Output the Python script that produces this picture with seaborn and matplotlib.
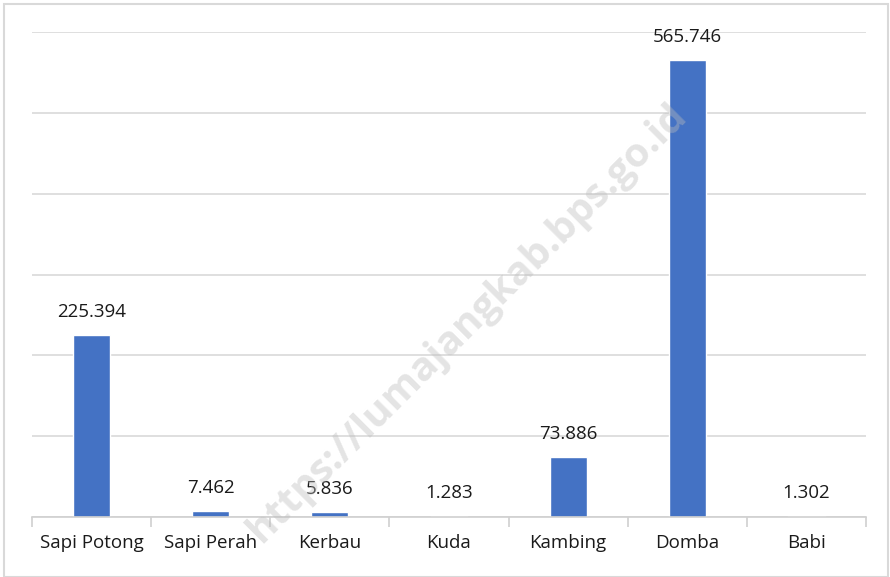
import matplotlib
matplotlib.use("Agg")
import matplotlib.pyplot as plt
import seaborn as sns
import numpy as np

# Data

categories = ["Sapi Potong", "Sapi Perah", "Kerbau", "Kuda", "Kambing", "Domba", "Babi"]
values = [225394, 7462, 5836, 1283, 73886, 565746, 1302]
value_labels = ["225.394", "7.462", "5.836", "1.283", "73.886", "565.746", "1.302"]

sns.set_theme(style="white")
plt.rcParams['font.family'] = ['Open Sans', 'DejaVu Sans']

fig = plt.figure(figsize=(8.9, 5.77), dpi=100)
ax = fig.add_axes([32 / 890, 1 - 517 / 577, 834 / 890, 485 / 577])

sns.barplot(
    x=categories,
    y=values,
    color="#4472C4",
    width=0.31,
    saturation=1,
    ax=ax
)

ax.set_xlim(-0.5, len(categories) - 0.5)
ax.set_ylim(0, 600000)
ax.set_yticks(np.arange(0, 600001, 100000))
ax.set_yticklabels([])
ax.tick_params(axis="y", length=0)
ax.grid(axis="y", color="#d9d9d9", linewidth=1.2)
ax.set_axisbelow(True)

for side in ["left", "right", "top"]:
    ax.spines[side].set_visible(False)
ax.spines["bottom"].set_color("#d0d0d0")
ax.spines["bottom"].set_linewidth(1.2)

ax.tick_params(axis="x", which="major", length=0, pad=12, labelsize=13.5, labelcolor="#1a1a1a")
ax.set_xticks(np.arange(-0.5, len(categories)), minor=True)
ax.tick_params(axis="x", which="minor", bottom=True, length=7, width=1.2,
               color="#d0d0d0", direction="out")

ax.bar_label(ax.containers[0], labels=value_labels, padding=10, fontsize=13.5, color="#1a1a1a")

# Watermark
fig.text(
    0.525, 0.44, "https://lumajangkab.bps.go.id",
    rotation=45, fontsize=29, fontweight="bold",
    color="#bcbcbc", alpha=0.4, ha="center", va="center"
)

# Figure border
fig.patches.append(plt.Rectangle(
    (4 / 890, 0), 1 - 6 / 890, 1 - 4 / 577,
    transform=fig.transFigure, fill=False,
    edgecolor="#d9d9d9", linewidth=1.5
))

fig.savefig("out.png", dpi=100)
